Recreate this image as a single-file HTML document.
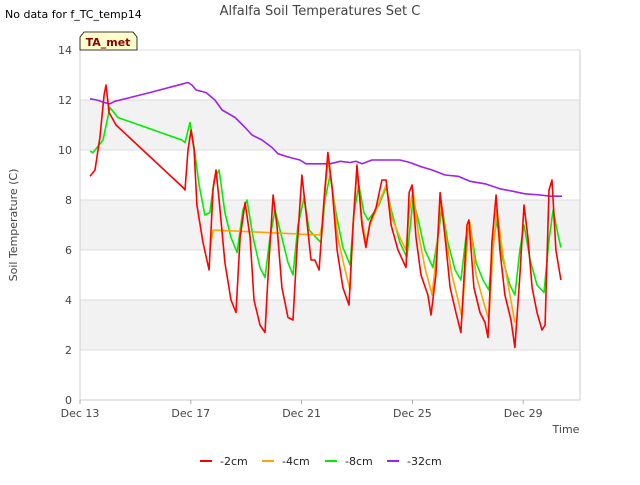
<!DOCTYPE html>
<html><head><meta charset="utf-8"><style>
body{margin:0;background:#fff;font-family:"Liberation Sans","DejaVu Sans",sans-serif;}
svg text{font-family:"DejaVu Sans","Liberation Sans",sans-serif;}
</style></head><body>
<svg id="chart" width="640" height="480" xmlns="http://www.w3.org/2000/svg">
<rect width="640" height="480" fill="#fff"/>
<text x="5" y="18" font-size="11" fill="#000">No data for f_TC_temp14</text>
<text x="320" y="15" font-size="13" text-anchor="middle" fill="#444">Alfalfa Soil Temperatures Set C</text>
<g id="plot"></g>
<g>
<path d="M80,50 L80,37 L84,32 L133,32 L137,37 L137,50 Z" fill="#ffffcc" stroke="#000" stroke-width="0.8"/>
<text x="108" y="46" font-size="11" font-weight="bold" fill="#8b0000" text-anchor="middle">TA_met</text>
</g>
<text transform="translate(17,225) rotate(-90)" font-size="11" text-anchor="middle" fill="#444">Soil Temperature (C)</text>
<text x="566" y="433" font-size="11" text-anchor="middle" fill="#444">Time</text>
<g id="legend"></g>
</svg>
<script>
const xTickLabels=["Dec 13","Dec 17","Dec 21","Dec 25","Dec 29"];
const xTickDays=[0,4,8,12,16];
const yTicks=[0,2,4,6,8,10,12,14];
const seriesNames=["-2cm","-4cm","-8cm","-32cm"];
const seriesColors=["#ff0000","#ffa500","#00ee00","#a020f0"];
const t2=[0.36,0.54,0.72,0.87,0.94,1.05,1.30,3.72,3.79,3.90,4.01,4.12,4.22,4.44,4.66,4.80,4.91,5.02,5.23,5.45,5.63,5.78,5.96,6.14,6.28,6.50,6.68,6.79,6.97,7.11,7.29,7.51,7.69,7.83,8.01,8.16,8.34,8.48,8.63,8.81,8.95,9.10,9.28,9.49,9.71,9.86,10.00,10.18,10.32,10.47,10.69,10.90,11.05,11.23,11.48,11.77,11.88,11.99,12.13,12.31,12.56,12.67,12.85,13.00,13.18,13.36,13.57,13.75,13.97,14.04,14.22,14.44,14.62,14.73,14.87,15.02,15.16,15.34,15.56,15.70,15.88,16.03,16.17,16.32,16.50,16.68,16.79,16.93,17.04,17.18,17.36];
const v2=[8.95,9.2,10.5,12.2,12.6,11.5,11.0,8.5,8.4,10,10.8,10,7.8,6.3,5.2,8.4,9.2,8,5.5,4,3.5,6.5,7.9,6.5,4,3,2.7,5,8.2,7,4.5,3.3,3.2,6,9,7.5,5.6,5.6,5.2,8,9.9,8.5,6,4.5,3.8,7,9.4,7,6.1,7.1,7.7,8.8,8.8,7,6,5.3,8.3,8.6,6.5,5,4.2,3.4,5,8.3,6.5,4.5,3.5,2.7,7,7.2,4.5,3.5,3.1,2.5,6.3,8.2,6,4.2,3.2,2.1,5,7.8,6.5,4.5,3.5,2.8,3,8.4,8.8,6,4.8];
const t4=[4.69,4.80,8.66,8.74,8.95,9.10,9.31,9.57,9.75,9.86,10.00,10.18,10.32,10.47,10.76,11.05,11.26,11.55,11.77,11.88,12.02,12.20,12.45,12.71,12.85,13.03,13.21,13.43,13.65,13.79,14.01,14.08,14.30,14.55,14.76,14.91,15.05,15.27,15.52,15.70];
const v4=[6.0,6.8,6.6,7,9.6,8.5,6.5,5.2,4.4,7,9.2,7.2,6.3,7,7.8,8.6,7.3,6.5,6,7.5,8.4,6.8,5.3,4.2,5.6,8,6.5,5,4.0,3.3,6.8,7.1,5,4,3.2,6,7.6,5.8,4.2,3.1];
const t8=[0.36,0.47,0.83,1.08,1.37,3.68,3.79,3.97,4.12,4.30,4.51,4.69,4.84,5.02,5.23,5.45,5.67,5.88,6.03,6.25,6.50,6.68,6.86,7.04,7.22,7.51,7.69,7.87,8.09,8.27,8.52,8.70,8.84,9.03,9.24,9.49,9.75,9.89,10.07,10.25,10.40,10.61,10.79,11.05,11.26,11.55,11.80,12.02,12.17,12.45,12.74,12.92,13.07,13.28,13.54,13.75,13.93,14.08,14.30,14.55,14.76,14.91,15.05,15.27,15.52,15.70,15.88,16.03,16.25,16.50,16.75,16.93,17.08,17.26,17.36];
const v8=[9.95,9.9,10.4,11.7,11.3,10.4,10.3,11.1,10.1,8.6,7.4,7.5,8.8,9.2,7.5,6.5,5.9,7.6,8,6.5,5.3,4.9,6.5,7.6,6.8,5.5,5,7,8.1,6.8,6.5,6.3,8,9.0,7.5,6.1,5.4,7.5,8.6,7.5,7.2,7.5,7.8,8.5,7.5,6.3,5.7,8,7.4,6,5.3,6.5,7.7,6.3,5.2,4.8,6.5,7,5.5,4.8,4.4,6.2,7.2,5.6,4.6,4.2,6,7,5.6,4.6,4.3,6.4,7.6,6.6,6.1];
const t32=[0.36,0.61,0.87,1.08,1.26,2.53,3.72,3.90,4.04,4.19,4.55,4.87,5.13,5.60,5.96,6.21,6.57,6.93,7.15,7.58,7.94,8.16,8.66,9.03,9.39,9.75,9.96,10.18,10.54,11.19,11.55,11.91,12.27,12.71,13.18,13.65,14.08,14.62,15.16,15.63,16.06,16.61,16.97,17.40];
const v32=[12.05,12,11.9,11.85,11.95,12.3,12.65,12.7,12.6,12.4,12.3,12,11.6,11.3,10.9,10.6,10.4,10.1,9.85,9.7,9.6,9.45,9.45,9.45,9.55,9.5,9.55,9.45,9.6,9.6,9.6,9.5,9.35,9.2,9.0,8.95,8.75,8.65,8.45,8.35,8.25,8.2,8.15,8.15];

const NS="http://www.w3.org/2000/svg";
const X0=80,X1=580,Y0=400,Y1=50;
const xs=d=>X0+d*27.7;
const ys=v=>Y0-(v/14)*(Y0-Y1);
const plot=document.getElementById('plot');
function mk(tag,at,parent){const e=document.createElementNS(NS,tag);for(const k in at)e.setAttribute(k,at[k]);(parent||plot).appendChild(e);return e;}
for(let i=0;i<yTicks.length-1;i++){
 const b=mk('rect',{x:X0,y:ys(yTicks[i+1]),width:X1-X0,height:ys(yTicks[i])-ys(yTicks[i+1]),fill:(i%2===1)?'#f2f2f2':'#ffffff'});
 
 
}
yTicks.forEach(v=>{
 const l=mk('line',{x1:X0,x2:X1,y1:ys(v),y2:ys(v),stroke:'#dcdcdc','stroke-width':1});
 
 
 const t=mk('text',{x:X0-8,y:ys(v)+4,'font-size':11,'text-anchor':'end',fill:'#444'});
 t.textContent=v;
 
 
});
const ax=mk('path',{d:`M${X0},${Y1}V${Y0}H${X1}V${Y1}`,fill:'none',stroke:'#ccc'});


xTickDays.forEach((d,i)=>{
 const tk=mk('line',{x1:xs(d),x2:xs(d),y1:Y0,y2:Y0+4,stroke:'#aaa'});
 
 
 const t=mk('text',{x:xs(d),y:Y0+17,'font-size':11,'text-anchor':'middle',fill:'#444'});
 t.textContent=xTickLabels[i];
 
 
});
const series=[[t2,v2],[t4,v4],[t8,v8],[t32,v32]];
const order=[3,2,1,0];
order.forEach(i=>{
 const [t,v]=series[i];
 const p=mk('polyline',{points:t.map((d,j)=>xs(d).toFixed(1)+','+ys(v[j]).toFixed(1)).join(' '),fill:'none',stroke:seriesColors[i],'stroke-width':1.6,'stroke-linejoin':'round'});
 
 
});
const lg=document.getElementById('legend');
const lx=[200,262,325,387];
seriesNames.forEach((n,i)=>{
 const g=mk('g',{},lg);
 
 
 mk('line',{x1:lx[i],x2:lx[i]+12,y1:461,y2:461,stroke:seriesColors[i],'stroke-width':2},g);
 const t=mk('text',{x:lx[i]+20,y:465,'font-size':11,fill:'#222'},g);
 t.textContent=n;
});
</script>
</body></html>
